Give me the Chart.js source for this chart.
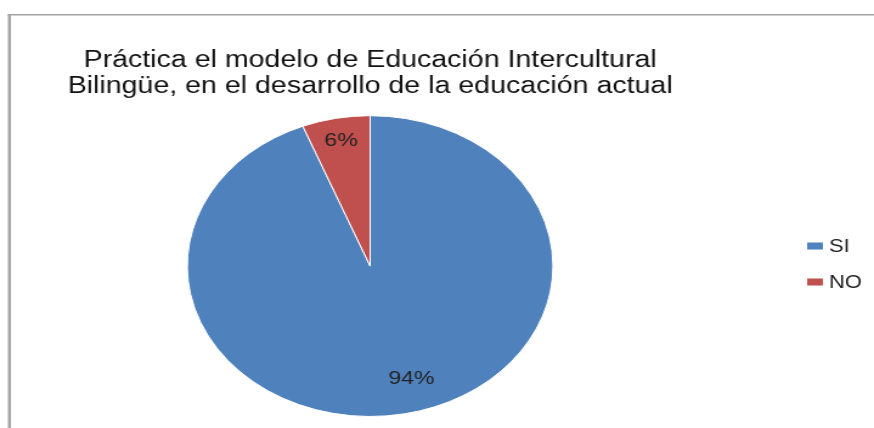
<!DOCTYPE html>
<html>
<head>
<meta charset="utf-8">
<script src="https://cdn.jsdelivr.net/npm/chart.js@4.4.0/dist/chart.umd.min.js"></script>
<style>
  html, body { margin: 0; padding: 0; background: #fff; }
  #myChart { width: 874px; height: 428px; }
</style>
</head>
<body>
<!-- the original picture is stretched sideways, so the canvas is drawn narrower and scaled up by css -->
<canvas id="myChart" width="719" height="428" style="width:874px;height:428px"></canvas>
<script>
const titleLines = ['Práctica el modelo de Educación Intercultural', 'Bilingüe, en el desarrollo de la educación actual'];
const categories = ['SI', 'NO'];
const values = [94, 6];
const sliceColors = ['#4F81BD', '#C0504D'];

// label placement (fraction of radius, angle shift in degrees)
const labelRadius = [0.78, 0.85];
const labelShift = [-6, 0];

const ctx = document.getElementById('myChart');

const frame = {
  id: 'frame',
  beforeDraw(chart) {
    const { ctx } = chart;
    ctx.save();
    ctx.fillStyle = '#a3a3a3';
    ctx.fillRect(6.5, 14, 719, 1.5);
    ctx.fillRect(6.5, 14, 2.5, 428);
    ctx.restore();
  }
};

const sliceLabels = {
  id: 'sliceLabels',
  afterDatasetsDraw(chart) {
    const { ctx, data } = chart;
    const total = data.datasets[0].data.reduce((a, b) => a + b, 0);

    chart.getDatasetMeta(0).data.forEach((arc, index) => {
      const value = data.datasets[0].data[index];
      const mid = (arc.startAngle + arc.endAngle) / 2 + labelShift[index] * Math.PI / 180;
      const r = arc.outerRadius * labelRadius[index];
      const x = arc.x + Math.cos(mid) * r;
      const y = arc.y + Math.sin(mid) * r;

      ctx.save();
      ctx.font = '19px "Liberation Sans", Arial';
      ctx.fillStyle = '#222';
      ctx.textAlign = 'center';
      ctx.textBaseline = 'middle';
      ctx.fillText(Math.round(value / total * 100) + '%', x, y);
      ctx.restore();
    });
  },
  afterDraw(chart) {
    const { ctx, data } = chart;
    ctx.save();
    ctx.font = '18px "Liberation Sans", Arial';
    ctx.textBaseline = 'middle';
    data.labels.forEach((label, i) => {
      const y = 246 + i * 36;
      ctx.fillStyle = data.datasets[0].backgroundColor[i];
      ctx.fillRect(664, y - 3.5, 13, 7);
      ctx.fillStyle = '#1a1a1a';
      ctx.fillText(label, 682, y + 1);
    });
    ctx.restore();
  }
};

window.myChart = new Chart(ctx, {
  type: 'pie',
  data: {
    labels: categories,
    datasets: [{
      data: values,
      backgroundColor: sliceColors,
      borderColor: '#ffffff',
      borderWidth: 1,
      hoverOffset: 0,
      offset: 0
    }]
  },
  options: {
    responsive: false,
    animation: false,
    layout: {
      padding: { left: 0, right: 110, top: 0, bottom: 11 }
    },
    plugins: {
      legend: { display: false },
      tooltip: { enabled: false },
      title: {
        display: true,
        text: titleLines,
        color: '#111',
        font: { size: 23.5, family: '"Liberation Sans", Arial', weight: 'normal', lineHeight: 1.11 },
        padding: { top: 47, bottom: 16 }
      }
    }
  },
  plugins: [frame, sliceLabels]
});
</script>
</body>
</html>
